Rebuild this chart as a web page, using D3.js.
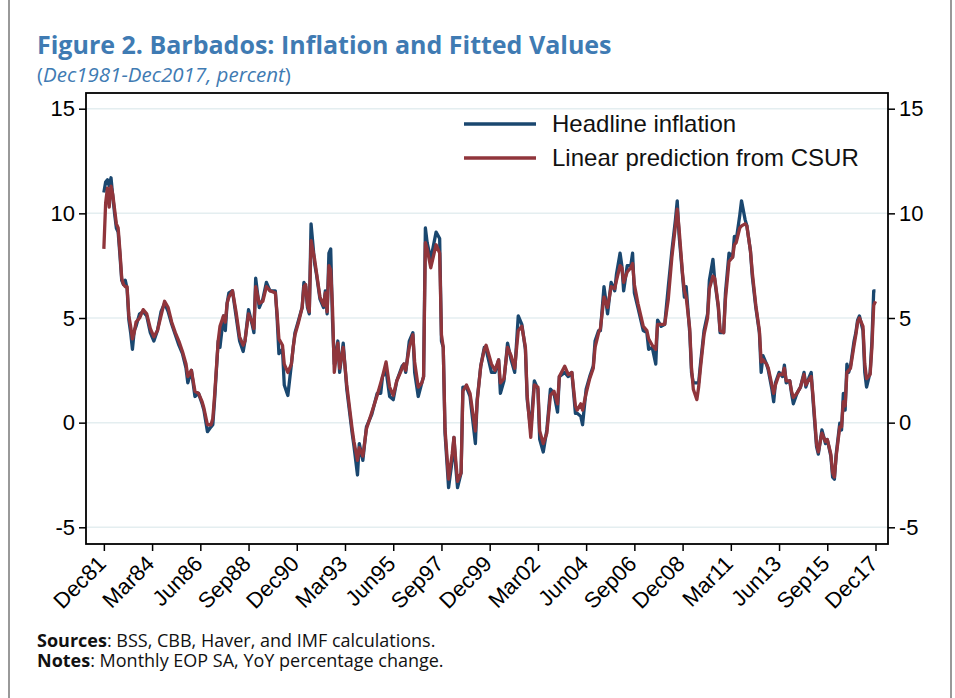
<!DOCTYPE html>
<html>
<head>
<meta charset="utf-8">
<script src="https://cdn.jsdelivr.net/npm/d3@7"></script>
<style>
  body { margin: 0; background: #fff; }
  svg { display: block; }
</style>
</head>
<body>
<div id="chart"></div>
<script>
// months since Dec 1981
const months = [0,1,2,3,4,5,6,7,8,9,10,11,12,13,14,15,16,17,18,20,22,24,26,28,30,32,34,36,38,40,42,44,46,47,49,51,53,55,56,58,60,61,62,64,65,67,68,69,70,72,74,76,78,79,81,83,84,85,87,89,91,93,96,97,98,100,101,103,105,106,107,109,111,112,113,114,115,116,118,119,121,123,124,125,126,127,128,129,131,132,134,136,139,140,142,143,145,147,150,153,155,156,158,160,162,164,167,168,169,171,173,174,176,178,179,180,181,183,186,188,189,190,191,193,195,196,197,198,200,201,203,205,208,209,211,213,214,217,219,221,222,224,226,228,230,232,234,236,237,239,241,243,244,246,248,250,252,254,255,258,260,262,264,265,267,268,270,272,274,275,277,278,280,282,284,286,287,289,290,291,293,295,296,297,299,302,304,305,307,309,310,312,314,316,318,320,321,322,324,325,326,328,329,330,332,333,334,336,338,339,341,342,344,345,347,348,350,352,353,354,356,357,359,360,362,363,365,367,368,369,371,372,374,375,376,378,380,381,382,384,385,386,388,390,392,393,395,396,397,399,400,402,404,405,407,408,409,410,412,413,414,415,416,417,418,420,421,422,423,425,426,427,429,430,431,432];

const headline = [11.0,11.5,11.6,11.3,11.7,10.8,10.0,9.3,9.1,8.0,6.8,6.6,6.8,6.4,4.9,4.3,3.5,4.4,4.6,5.2,5.3,5.1,4.3,3.9,4.4,5.3,5.7,5.3,4.7,4.2,3.7,3.3,2.6,1.9,2.5,1.25,1.4,0.9,0.6,-0.43,-0.2,-0.1,1.1,3.9,3.6,5.1,4.4,5.7,6.2,6.3,5.1,3.9,3.4,3.9,5.4,4.7,4.3,6.9,5.5,5.9,6.7,6.3,6.3,5.0,3.3,3.5,1.8,1.3,2.8,3.6,4.3,4.9,5.5,6.7,6.5,5.5,5.2,9.5,7.6,7.1,5.9,5.5,6.3,5.2,8.1,8.3,4.9,2.8,3.9,2.4,3.8,1.6,-0.5,-1.1,-2.5,-1.0,-1.8,-0.2,0.4,1.4,1.4,2.2,2.5,1.25,1.1,2.0,2.7,2.8,2.4,3.9,4.3,2.4,1.25,1.9,2.2,9.3,8.6,7.8,9.1,8.8,3.9,3.6,-0.5,-3.1,-1.8,-0.7,-2.1,-3.1,-2.4,1.7,1.7,1.25,-1.0,1.1,2.7,3.6,3.5,2.4,2.4,3.0,1.4,2.0,3.8,3.0,2.4,5.1,4.7,3.5,1.1,-0.35,2.0,1.6,-0.8,-1.4,-0.35,1.6,1.4,0.5,2.2,2.4,2.2,2.4,0.45,0.45,0.3,-0.1,1.6,2.2,2.7,3.9,4.4,4.4,6.5,5.2,6.7,6.3,7.1,8.1,7.5,6.3,7.5,7.5,8.1,6.2,5.5,4.4,4.3,3.5,3.6,2.8,4.9,4.6,4.7,6.5,8.2,9.7,10.6,9.0,7.0,6.0,6.5,4.3,2.4,1.9,1.9,1.9,2.8,4.4,5.2,6.8,7.8,6.8,5.5,4.3,4.3,6.2,8.1,7.9,8.9,8.7,9.9,10.6,9.7,9.4,8.2,7.0,5.5,4.3,2.4,3.2,2.8,2.5,1.6,1.0,1.9,2.4,2.2,2.75,1.9,2.0,1.4,0.9,1.4,1.7,2.4,1.7,2.2,2.4,1.1,-1.15,-1.5,-0.35,-1.0,-0.8,-1.6,-2.6,-2.7,-1.5,-0.03,-0.35,1.4,0.6,2.8,2.4,2.7,3.9,4.3,4.9,5.1,4.4,2.4,1.7,2.4,3.9,6.3,6.3];

const predicted = [8.3,10.5,11.2,10.3,11.3,10.9,10.2,9.5,9.3,8.2,6.9,6.6,6.5,6.5,5.1,4.6,4.0,4.3,4.8,5.0,5.4,5.2,4.5,4.1,4.4,5.1,5.8,5.5,4.8,4.3,3.9,3.4,2.8,2.2,2.5,1.5,1.4,1.0,0.7,-0.1,-0.1,0.2,1.3,3.9,4.6,5.1,4.8,5.7,6.0,6.3,5.3,4.1,3.7,3.9,5.2,4.8,4.5,6.5,5.7,5.8,6.5,6.3,6.2,5.2,4.0,3.7,2.8,2.4,2.8,3.6,4.2,4.8,5.5,6.5,6.6,5.6,5.3,8.7,7.8,7.2,6.0,5.6,6.2,5.3,7.5,7.3,5.5,2.4,3.8,2.6,3.6,1.8,-0.3,-0.9,-1.8,-1.2,-1.6,-0.3,0.5,1.3,1.9,2.2,2.9,1.7,1.3,2.0,2.6,2.8,2.5,3.6,4.2,2.9,1.7,1.9,2.2,8.6,8.3,7.4,8.5,8.1,4.2,3.6,-0.3,-2.7,-1.5,-0.7,-1.8,-2.8,-2.4,1.5,1.8,1.4,-0.4,1.0,2.7,3.5,3.7,2.8,2.5,3.0,1.9,2.1,3.6,3.2,2.6,4.4,4.6,3.6,1.3,-0.7,1.8,1.7,-0.4,-1.0,-0.5,1.3,1.5,0.9,2.2,2.7,2.3,2.4,0.8,0.6,0.9,0.6,1.4,2.1,2.6,3.6,4.3,4.5,6.0,5.5,6.5,6.4,6.8,7.5,7.4,6.7,7.2,7.4,7.6,6.6,5.7,4.6,4.4,4.0,3.7,3.5,4.7,4.7,4.7,5.9,7.9,9.4,10.2,9.3,7.1,6.3,6.0,4.5,2.6,1.6,1.1,1.7,2.6,4.2,5.0,6.4,7.0,6.9,5.6,4.4,4.3,5.9,7.7,7.9,8.5,8.6,9.3,9.4,9.5,9.4,8.2,7.2,5.6,4.4,2.9,3.0,2.8,2.6,1.8,1.4,1.8,2.3,2.3,2.6,2.0,2.0,1.5,1.2,1.4,1.7,2.3,1.8,2.1,2.2,1.3,-1.0,-1.4,-0.5,-0.9,-0.8,-1.5,-2.4,-2.6,-1.6,-0.2,-0.2,1.0,0.8,2.4,2.5,2.6,3.7,4.2,4.8,5.0,4.6,2.8,2.1,2.3,3.6,5.6,5.8];

const tickMonths = [0,27,54,81,108,135,162,189,216,243,270,297,324,351,378,405,432];
const tickLabels = ["Dec81","Mar84","Jun86","Sep88","Dec90","Mar93","Jun95","Sep97","Dec99","Mar02","Jun04","Sep06","Dec08","Mar11","Jun13","Sep15","Dec17"];
const yTicks = [-5, 0, 5, 10, 15];

const seriesNames = ["Headline inflation", "Linear prediction from CSUR"];
const seriesColors = ["#1a476f", "#90353b"];

const W = 955, H = 698;
const plotL = 86, plotR = 888, plotT = 93, plotB = 544;

const svg = d3.select('#chart').append('svg')
    .attr('width', W)
    .attr('height', H);

// outer frame of the figure
svg.append('line').attr('x1', 9).attr('x2', 9).attr('y1', 0).attr('y2', H)
    .attr('stroke', '#777').attr('stroke-width', 1.5);
svg.append('line').attr('x1', 951).attr('x2', 951).attr('y1', 0).attr('y2', H)
    .attr('stroke', '#777').attr('stroke-width', 1.5);

// title
svg.append('text')
    .attr('x', 37).attr('y', 54)
    .attr('font-family', 'Open Sans, sans-serif')
    .attr('font-weight', 700)
    .attr('font-size', 25)
    .attr('fill', '#3f7bb3')
    .text('Figure 2. Barbados: Inflation and Fitted Values');

const sub = svg.append('text')
    .attr('x', 37).attr('y', 82)
    .attr('font-family', 'Open Sans, sans-serif')
    .attr('font-size', 20.5)
    .attr('fill', '#3f7bb3');
sub.append('tspan').text('(');
sub.append('tspan').attr('font-style', 'italic').text('Dec1981-Dec2017, percent');
sub.append('tspan').text(')');

const x = d3.scaleLinear().domain([-10, 439]).range([plotL, plotR]);
const y = d3.scaleLinear().domain([-5, 15]).range([527.3, 108.7]);

// gridlines
svg.append('g').selectAll('line')
    .data(yTicks)
    .enter()
    .append('line')
    .attr('x1', plotL).attr('x2', plotR)
    .attr('y1', d => y(d)).attr('y2', d => y(d))
    .attr('stroke', '#e4eef0')
    .attr('stroke-width', 1.5);

// lines
const table = months.map((m, i) => ({ m: m, h: headline[i], p: predicted[i] }));
const lineH = d3.line().x(d => x(d.m)).y(d => y(d.h));
const lineP = d3.line().x(d => x(d.m)).y(d => y(d.p));

svg.append('path').datum(table)
    .attr('d', lineH)
    .attr('fill', 'none')
    .attr('stroke', seriesColors[0])
    .attr('stroke-width', 3.3)
    .attr('stroke-linejoin', 'round');
svg.append('path').datum(table)
    .attr('d', lineP)
    .attr('fill', 'none')
    .attr('stroke', seriesColors[1])
    .attr('stroke-width', 3.3)
    .attr('stroke-linejoin', 'round');

// axes
const yAxisL = d3.axisLeft(y).tickValues(yTicks).tickSize(7).tickPadding(4)
    .tickFormat(d => String(d));
const yAxisR = d3.axisRight(y).tickValues(yTicks).tickSize(7).tickPadding(4)
    .tickFormat(d => String(d));
const xAxis = d3.axisBottom(x).tickValues(tickMonths).tickSize(7)
    .tickFormat((d, i) => tickLabels[i]);

function styleAxis(g) {
  g.select('.domain').remove();
  g.selectAll('.tick line').attr('stroke', '#000').attr('stroke-width', 1.5);
  g.selectAll('.tick text')
      .attr('font-family', 'Liberation Sans, Arial, sans-serif')
      .attr('font-size', 22)
      .attr('fill', '#000');
}

svg.append('g').attr('transform', 'translate(' + plotL + ',0)').call(yAxisL).call(styleAxis);
svg.append('g').attr('transform', 'translate(' + plotR + ',0)').call(yAxisR).call(styleAxis);
const gx = svg.append('g').attr('transform', 'translate(0,' + plotB + ')').call(xAxis).call(styleAxis);
gx.selectAll('.tick text')
    .attr('text-anchor', 'end')
    .attr('dy', 0)
    .attr('transform', 'translate(-4,14) rotate(-45)');

// plot frame
svg.append('rect')
    .attr('x', plotL).attr('y', plotT)
    .attr('width', plotR - plotL).attr('height', plotB - plotT)
    .attr('fill', 'none')
    .attr('stroke', '#000')
    .attr('stroke-width', 1.8);

// legend
const legend = svg.append('g').selectAll('g')
    .data(seriesNames)
    .enter()
    .append('g')
    .attr('transform', (d, i) => 'translate(464,' + (124 + i * 34) + ')');
legend.append('line')
    .attr('x1', 0).attr('x2', 72)
    .attr('stroke', (d, i) => seriesColors[i])
    .attr('stroke-width', 3.3);
legend.append('text')
    .attr('x', 88).attr('y', 8)
    .attr('font-family', 'Liberation Sans, Arial, sans-serif')
    .attr('font-size', 24)
    .attr('fill', '#111')
    .text(d => d);

// notes
const notes = [['Sources', ': BSS, CBB, Haver, and IMF calculations.'],
               ['Notes', ': Monthly EOP SA, YoY percentage change.']];
const nt = svg.append('g').selectAll('text')
    .data(notes)
    .enter()
    .append('text')
    .attr('x', 37)
    .attr('y', (d, i) => 647 + i * 20)
    .attr('font-family', 'Open Sans, sans-serif')
    .attr('font-size', 18)
    .attr('fill', '#111');
nt.append('tspan').attr('font-weight', 700).text(d => d[0]);
nt.append('tspan').text(d => d[1]);
</script>
</body>
</html>
